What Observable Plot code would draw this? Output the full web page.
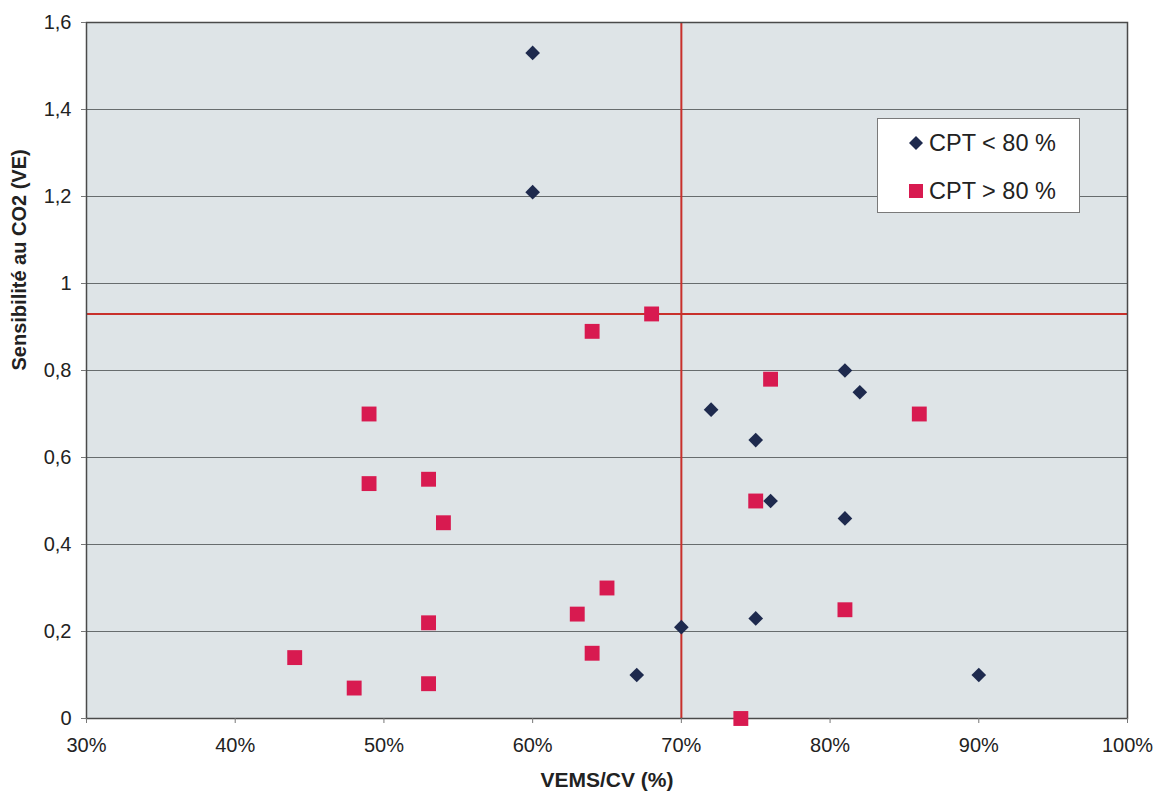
<!DOCTYPE html>
<html><head><meta charset="utf-8">
<script src="https://cdn.jsdelivr.net/npm/d3@7"></script>
<script src="https://cdn.jsdelivr.net/npm/@observablehq/plot@0.6"></script>
<style>
body{margin:0;background:#fff;font-family:"Liberation Sans",Arial,sans-serif}
#wrap{position:relative;width:1155px;height:795px}
.legend{position:absolute;left:877px;top:118px;width:203px;height:95px;background:#fff;border:1px solid #7a7a7a;box-sizing:border-box;font-size:23.5px;color:#222}
.legend .row{position:absolute;left:30px;display:flex;align-items:center;gap:5px;height:28px;line-height:28px}
</style></head><body><div id="wrap"></div>
<script>
// CPT < 80 % (diamonds)
const lowX = [0.60, 0.60, 0.81, 0.82, 0.72, 0.75, 0.76, 0.81, 0.70, 0.75, 0.67, 0.90];
const lowY = [1.53, 1.21, 0.80, 0.75, 0.71, 0.64, 0.50, 0.46, 0.21, 0.23, 0.10, 0.10];
// CPT > 80 % (squares)
const highX = [0.68, 0.64, 0.76, 0.86, 0.49, 0.49, 0.53, 0.54, 0.75, 0.65, 0.63, 0.53, 0.81, 0.64, 0.44, 0.48, 0.53, 0.74];
const highY = [0.93, 0.89, 0.78, 0.70, 0.70, 0.54, 0.55, 0.45, 0.50, 0.30, 0.24, 0.22, 0.25, 0.15, 0.14, 0.07, 0.08, 0.00];
const xTicks = [0.3, 0.4, 0.5, 0.6, 0.7, 0.8, 0.9, 1.0];
const yTicks = [0, 0.2, 0.4, 0.6, 0.8, 1.0, 1.2, 1.4, 1.6];
const refX = [0.70];
const refY = [0.93];
const seriesNames = ["CPT < 80 %", "CPT > 80 %"];
const colors = ["#1e2a4e", "#d81a50"];

const low = lowX.map((x, i) => ({x, y: lowY[i]}));
const high = highX.map((x, i) => ({x, y: highY[i]}));
const yFmt = d => String(+d.toFixed(1)).replace(".", ",");

const chart = Plot.plot({
  width: 1155, height: 795,
  marginLeft: 86, marginRight: 28, marginTop: 22, marginBottom: 77,
  style: {fontFamily: '"Liberation Sans", Arial, sans-serif', fontSize: "20px", color: "#222", background: "#fff"},
  x: {domain: [0.3, 1.0]},
  y: {domain: [0, 1.6]},
  marks: [
    Plot.frame({fill: "#dee4e7", stroke: null}),
    Plot.ruleY(yTicks.slice(1, -1), {stroke: "#676c6e", strokeWidth: 1.2}),
    Plot.ruleX(refX, {stroke: "#c8302b", strokeWidth: 2}),
    Plot.ruleY(refY, {stroke: "#c8302b", strokeWidth: 2}),
    Plot.frame({stroke: "#4a4a4a", strokeWidth: 1.5}),
    Plot.axisX({ticks: xTicks, tickFormat: d3.format(".0%"), tickSize: 5, tickPadding: 14, fontSize: 20, label: null, stroke: "#777"}),
    Plot.axisY({ticks: yTicks, tickFormat: yFmt, tickSize: 5, tickPadding: 10, fontSize: 20, label: null, stroke: "#777"}),
    Plot.dot(high, {x: "x", y: "y", symbol: "square", r: 8.4, fill: colors[1], stroke: null}),
    Plot.dot(low, {x: "x", y: "y", symbol: "diamond2", r: 6.6, fill: colors[0], stroke: null}),
    Plot.text(["VEMS/CV (%)"], {frameAnchor: "bottom", dy: 68, fontWeight: "bold", fontSize: 21, fill: "#222"}),
    Plot.text(["Sensibilité au CO2 (VE)"], {frameAnchor: "left", dx: -67, rotate: -90, fontWeight: "bold", fontSize: 20, fill: "#222"})
  ]
});
const wrap = document.getElementById("wrap");
wrap.appendChild(chart);

const leg = document.createElement("div");
leg.className = "legend";
leg.innerHTML =
  `<div class="row" style="top:10px"><svg width="16" height="16"><path d="M8,1 L15,8 L8,15 L1,8Z" fill="${colors[0]}"/></svg><span>${seriesNames[0].replace("<", "&lt;")}</span></div>` +
  `<div class="row" style="top:58px"><svg width="16" height="16"><rect x="1" y="1" width="14" height="14" fill="${colors[1]}"/></svg><span>${seriesNames[1].replace(">", "&gt;")}</span></div>`;
wrap.appendChild(leg);
</script>
</body></html>
